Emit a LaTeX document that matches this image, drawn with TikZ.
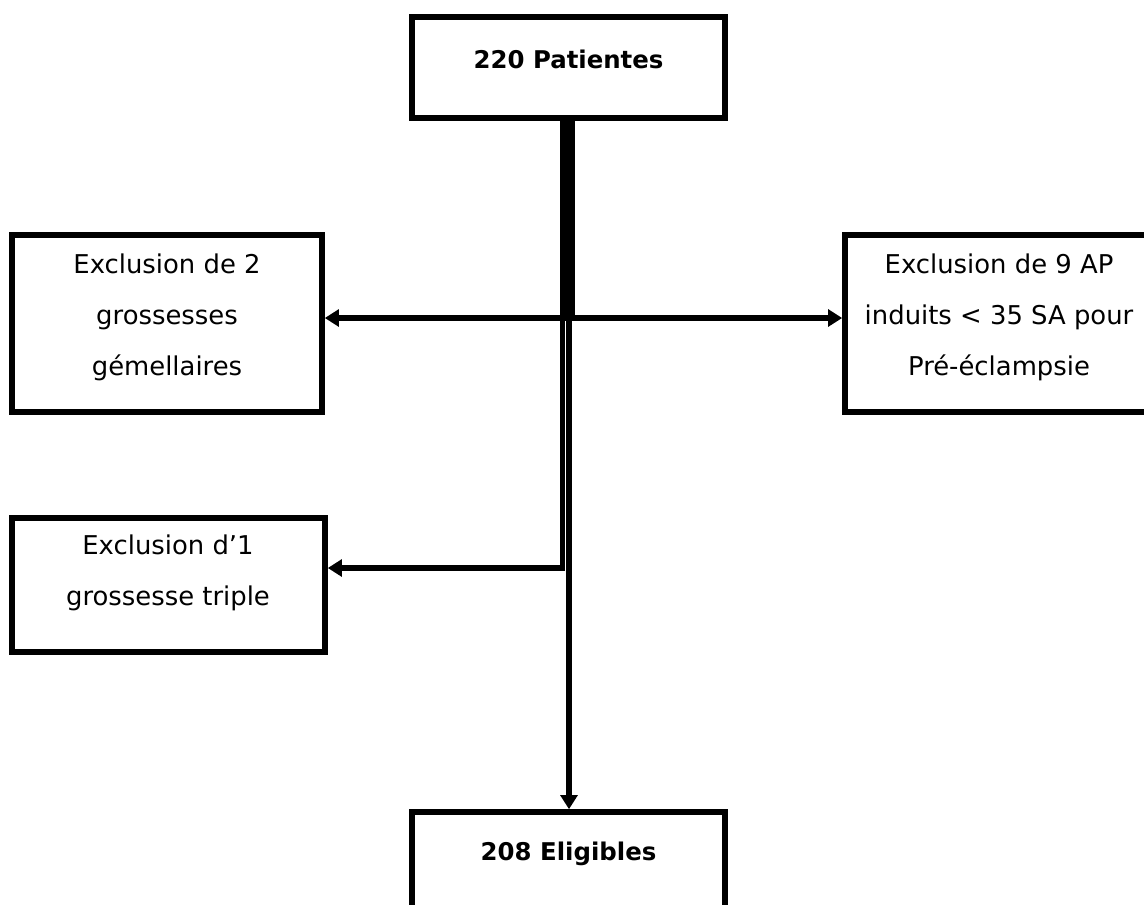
\documentclass[tikz,border=0pt]{standalone}
\usepackage{fontspec}
\setmainfont{DejaVu Sans}
\usetikzlibrary{arrows.meta,calc}
\begin{document}
\begin{tikzpicture}[x=0.75pt,y=-0.75pt,
  box/.style={draw=black,line width=4.2pt,rectangle,inner sep=0pt,fill=white},
  txt/.style={font=\fontsize{19.4pt}{38.25pt}\selectfont,align=center,inner sep=0pt},
  btxt/.style={font=\fontsize{18.3pt}{22pt}\selectfont\bfseries,inner sep=0pt,anchor=base},
  arr/.style={line width=3.9pt,-{Triangle[length=10.5pt,width=12.5pt]}}]
\useasboundingbox (0,0) rectangle (1144,904);
\clip (0,0) rectangle (1144,904);
\fill[white] (0,0) rectangle (1144,904);
% boxes
\node[box,minimum width=313*0.75pt,minimum height=101*0.75pt] (top) at (568.5,67.5) {};
\node[box,minimum width=310*0.75pt,minimum height=177*0.75pt] (left) at (167,323.5) {};
\node[box,minimum width=310*0.75pt,minimum height=177*0.75pt] (right) at (1000,323.5) {};
\node[box,minimum width=313*0.75pt,minimum height=134*0.75pt] (bl) at (168.5,585) {};
\node[box,minimum width=313*0.75pt,minimum height=110*0.75pt] (bot) at (568.5,867) {};
% texts
\node[btxt] (ttop) at (568.5,68) {220 Patientes};
\node[btxt] (tbot) at (568.5,860) {208 Eligibles};
\node[txt] (tleft) at (167,317) {Exclusion de 2\\grossesses\\gémellaires};
\node[txt] (tright) at (999,317) {Exclusion de 9 AP\\induits < 35 SA pour\\Pré-éclampsie};
\node[txt] (tbl) at (168,573) {Exclusion d’1\\grossesse triple};
% connectors
\draw[arr] ($(top.south)+(-6,0)$) |- ($(bl.east)+(0,-17)$);
\draw[arr] ($(top.south)+(-2.5,0)$) |- ($(left.east)+(0,-5.5)$);
\draw[arr] ($(top.south)+(4,0)$) |- ($(right.west)+(0,-5.5)$);
\draw[arr] ($(top.south)+(0.5,0)$) -- ($(bot.north)+(0.5,0)$);
\end{tikzpicture}
\end{document}
